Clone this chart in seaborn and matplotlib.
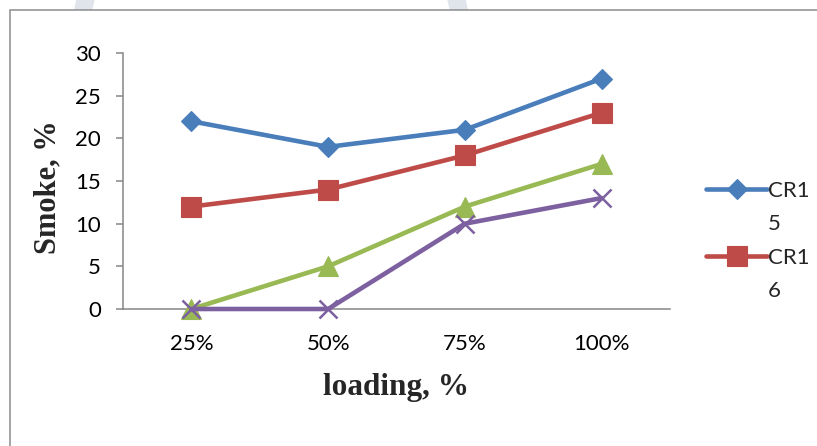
import matplotlib
matplotlib.use("Agg")
import matplotlib.pyplot as plt
from matplotlib import patches, transforms
from matplotlib.lines import Line2D
import seaborn as sns
import pandas as pd

# Engine load steps and measured smoke opacity for each blend
loading = ["25%", "50%", "75%", "100%"]
cr15 = [22, 19, 21, 27]
cr16 = [12, 14, 18, 23]
cr17 = [0, 5, 12, 17]
cr18 = [0, 0, 10, 13]

series_names = ["CR15", "CR16", "CR17", "CR18"]
series_values = [cr15, cr16, cr17, cr18]
colors = ["#4A7EBB", "#BE4B48", "#98B954", "#7D60A0"]
markers = ["D", "s", "^", "x"]
marker_sizes = [10, 14, 14, 13.5]
y_ticks = [0, 5, 10, 15, 20, 25, 30]

df = pd.DataFrame({
    "loading": loading * len(series_names),
    "smoke": [v for vals in series_values for v in vals],
    "series": [n for n in series_names for _ in loading],
})

sns.set_style("white")
plt.rcParams["font.family"] = ["Lato", "DejaVu Sans"]

W, H = 817, 446
fig = plt.figure(figsize=(W / 100, H / 100), dpi=100)
fig.patch.set_facecolor("white")

px = transforms.IdentityTransform()
# faint ring in the page background
ring = patches.Wedge((271, H - 45), 200, 0, 360, width=18,
                     facecolor="#dfe5ea", edgecolor="none",
                     transform=px, zorder=-3)
fig.add_artist(ring)
# chart frame
frame = patches.Rectangle((10, -20), W + 40, H - 10 + 20,
                          facecolor="white", edgecolor="#8c8c8c",
                          linewidth=1.1, transform=px, zorder=-2)
fig.add_artist(frame)

ax = fig.add_axes([123 / W, 1 - 309 / H, 547 / W, 256 / H])
ax.set_facecolor("none")

for name, color, mk, ms in zip(series_names, colors, markers, marker_sizes):
    sub = df[df["series"] == name]
    sns.lineplot(data=sub, x="loading", y="smoke", ax=ax, color=color,
                 marker=mk, markersize=ms, markeredgecolor=color,
                 markerfacecolor=color,
                 markeredgewidth=1.8 if mk == "x" else 0.8,
                 linewidth=3.3, legend=False, zorder=3, clip_on=False)

ax.set_xlim(-0.5, len(loading) - 0.5)
ax.set_ylim(0, 30)
ax.set_yticks(y_ticks)
ax.set_yticklabels([str(t) for t in y_ticks])

for side in ["top", "right"]:
    ax.spines[side].set_visible(False)
for side in ["left", "bottom"]:
    ax.spines[side].set_color("#868686")
    ax.spines[side].set_linewidth(1.1)

ax.tick_params(axis="y", length=5, width=1.1, color="#868686",
               pad=11, labelsize=16, labelcolor="black", left=True)
ax.tick_params(axis="x", length=0, pad=18, labelsize=16, labelcolor="black")

ax.set_xlabel("loading, %", fontsize=22.5, fontweight="bold",
              family="Liberation Serif", va="center")
ax.xaxis.set_label_coords((396 - 123) / 547, (309 - 387) / 256)
ax.set_ylabel("Smoke, %", fontsize=22, fontweight="bold",
              family="Liberation Serif", va="center")
ax.yaxis.set_label_coords((48 - 123) / 547, (309 - 187) / 256)

# The legend box is narrow, so each name wraps onto a second row
lines = ax.get_lines()
blank = Line2D([], [], color="none")
handles, labels = [], []
for line, name in zip(lines[:2], series_names[:2]):
    handles += [line, blank]
    labels += [name[:3], name[3:]]
leg = ax.legend(handles, labels, loc="upper left",
                bbox_to_anchor=(706 / W, 1 - 181 / H),
                bbox_transform=fig.transFigure, frameon=False,
                fontsize=16, handlelength=2.75, handletextpad=0.02,
                labelspacing=0.6, borderpad=0, borderaxespad=0)

fig.savefig("out.png", dpi=100)
